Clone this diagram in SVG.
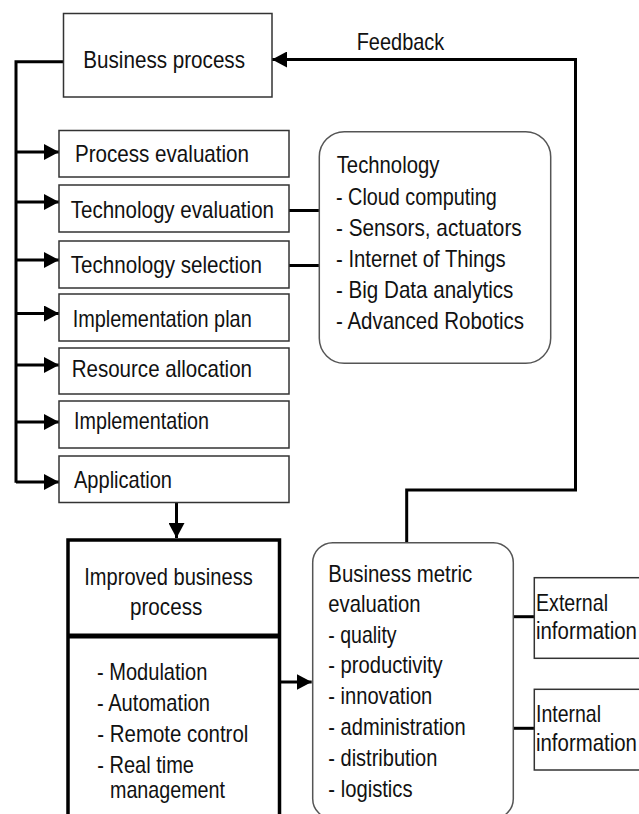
<svg xmlns="http://www.w3.org/2000/svg" width="639" height="814" viewBox="0 0 639 814">
<style>
  text { font-family: "Liberation Sans", Arial, sans-serif; font-size: 24px; fill: #111; }
  .box { fill: #fff; stroke: #333; stroke-width: 1.5; }
  .rbox { fill: #fff; stroke: #555; stroke-width: 1.5; }
  .thick { fill: #fff; stroke: #000; stroke-width: 3.5; }
  .conn { fill: none; stroke: #000; stroke-width: 3; }
</style>
<defs>
  <marker id="arrow" markerUnits="userSpaceOnUse" markerWidth="15" markerHeight="16" refX="15" refY="8" orient="auto">
    <path d="M0,0 L15,8 L0,16 z" fill="#000"/>
  </marker>
</defs>
<rect width="639" height="814" fill="#fff"/>

<g id="connectors">
  <path class="conn" d="M63.5,61.7 H16 V482.7"/>
  <path class="conn" d="M16,152 H59" marker-end="url(#arrow)"/>
  <path class="conn" d="M16,202 H59" marker-end="url(#arrow)"/>
  <path class="conn" d="M16,260 H59" marker-end="url(#arrow)"/>
  <path class="conn" d="M16,313.5 H59" marker-end="url(#arrow)"/>
  <path class="conn" d="M16,365 H59" marker-end="url(#arrow)"/>
  <path class="conn" d="M16,422 H59" marker-end="url(#arrow)"/>
  <path class="conn" d="M16,482 H59" marker-end="url(#arrow)"/>
  <path class="conn" d="M289,210.5 H319.3"/>
  <path class="conn" d="M289,265.5 H319.3"/>
  <path class="conn" d="M176.5,502.5 V538" marker-end="url(#arrow)"/>
  <path class="conn" d="M280.7,682 H311.7" marker-end="url(#arrow)"/>
  <path class="conn" d="M406.7,542.7 V490 H575.5 V59.5 H272" marker-end="url(#arrow)"/>
  <path class="conn" d="M513.3,616.7 H534.3"/>
  <path class="conn" d="M513.3,728.3 H534.3"/>
  <text x="356.7" y="50" textLength="87.6" lengthAdjust="spacingAndGlyphs">Feedback</text>
</g>

<g id="business-process">
  <rect class="box" x="63.5" y="13.5" width="208.5" height="83.5"/>
  <text x="83.3" y="68.3" textLength="161.7" lengthAdjust="spacingAndGlyphs">Business process</text>
</g>

<g id="process-evaluation">
  <rect class="box" x="59" y="130.5" width="230" height="46.5"/>
  <text x="75" y="162" textLength="174" lengthAdjust="spacingAndGlyphs">Process evaluation</text>
</g>
<g id="technology-evaluation">
  <rect class="box" x="59" y="185" width="230" height="47"/>
  <text x="70.7" y="217.5" textLength="203.3" lengthAdjust="spacingAndGlyphs">Technology evaluation</text>
</g>
<g id="technology-selection">
  <rect class="box" x="59" y="241" width="230" height="47"/>
  <text x="70.7" y="273.3" textLength="191.3" lengthAdjust="spacingAndGlyphs">Technology selection</text>
</g>
<g id="implementation-plan">
  <rect class="box" x="59" y="294" width="230" height="47"/>
  <text x="72.7" y="326.7" textLength="179" lengthAdjust="spacingAndGlyphs">Implementation plan</text>
</g>
<g id="resource-allocation">
  <rect class="box" x="59" y="348" width="230" height="46"/>
  <text x="71.7" y="377.3" textLength="180.3" lengthAdjust="spacingAndGlyphs">Resource allocation</text>
</g>
<g id="implementation">
  <rect class="box" x="59" y="401" width="230" height="47"/>
  <text x="74" y="429.3" textLength="135" lengthAdjust="spacingAndGlyphs">Implementation</text>
</g>
<g id="application">
  <rect class="box" x="59" y="456" width="230" height="46.5"/>
  <text x="74" y="488.3" textLength="98" lengthAdjust="spacingAndGlyphs">Application</text>
</g>

<g id="technology">
  <rect class="rbox" x="319.3" y="131.7" width="231.4" height="231.6" rx="25" ry="25"/>
  <text x="336.7" y="173.3" textLength="102.7" lengthAdjust="spacingAndGlyphs">Technology</text>
  <text x="336" y="205" textLength="160.7" lengthAdjust="spacingAndGlyphs">- Cloud computing</text>
  <text x="336" y="235.7" textLength="185.7" lengthAdjust="spacingAndGlyphs">- Sensors, actuators</text>
  <text x="336" y="266.7" textLength="169.7" lengthAdjust="spacingAndGlyphs">- Internet of Things</text>
  <text x="336" y="298.3" textLength="177.3" lengthAdjust="spacingAndGlyphs">- Big Data analytics</text>
  <text x="336" y="329.3" textLength="188" lengthAdjust="spacingAndGlyphs">- Advanced Robotics</text>
</g>

<g id="improved-business-process">
  <rect class="thick" x="68" y="540" width="211.5" height="300"/>
  <line x1="68" y1="636" x2="279.5" y2="636" stroke="#000" stroke-width="5"/>
  <text x="84.3" y="585" textLength="168.4" lengthAdjust="spacingAndGlyphs">Improved business</text>
  <text x="130" y="615" textLength="72.3" lengthAdjust="spacingAndGlyphs">process</text>
  <text x="97" y="680" textLength="110.3" lengthAdjust="spacingAndGlyphs">- Modulation</text>
  <text x="97" y="710.5" textLength="113" lengthAdjust="spacingAndGlyphs">- Automation</text>
  <text x="97.3" y="741.7" textLength="151" lengthAdjust="spacingAndGlyphs">- Remote control</text>
  <text x="97.3" y="772.7" textLength="96.7" lengthAdjust="spacingAndGlyphs">- Real time</text>
  <text x="110" y="798" textLength="115" lengthAdjust="spacingAndGlyphs">management</text>
</g>

<g id="business-metric-evaluation">
  <rect class="rbox" x="312.7" y="542.7" width="200.6" height="276" rx="20" ry="20"/>
  <text x="328.3" y="581.7" textLength="144" lengthAdjust="spacingAndGlyphs">Business metric</text>
  <text x="328.3" y="611.7" textLength="92.3" lengthAdjust="spacingAndGlyphs">evaluation</text>
  <text x="328.3" y="642.7" textLength="68.3" lengthAdjust="spacingAndGlyphs">- quality</text>
  <text x="328.3" y="673.3" textLength="114.3" lengthAdjust="spacingAndGlyphs">- productivity</text>
  <text x="328.3" y="704" textLength="104" lengthAdjust="spacingAndGlyphs">- innovation</text>
  <text x="328.3" y="735" textLength="137.3" lengthAdjust="spacingAndGlyphs">- administration</text>
  <text x="328.3" y="765.7" textLength="109" lengthAdjust="spacingAndGlyphs">- distribution</text>
  <text x="328.3" y="796.7" textLength="84.3" lengthAdjust="spacingAndGlyphs">- logistics</text>
</g>

<g id="external-information">
  <rect class="box" x="534.3" y="577.7" width="120" height="80.6"/>
  <text x="536" y="611" textLength="72" lengthAdjust="spacingAndGlyphs">External</text>
  <text transform="translate(536,639.3) scale(0.85,1)">information</text>
</g>

<g id="internal-information">
  <rect class="box" x="534.3" y="689.3" width="120" height="80.7"/>
  <text x="536" y="721.7" textLength="65" lengthAdjust="spacingAndGlyphs">Internal</text>
  <text transform="translate(536,750.7) scale(0.85,1)">information</text>
</g>
</svg>
